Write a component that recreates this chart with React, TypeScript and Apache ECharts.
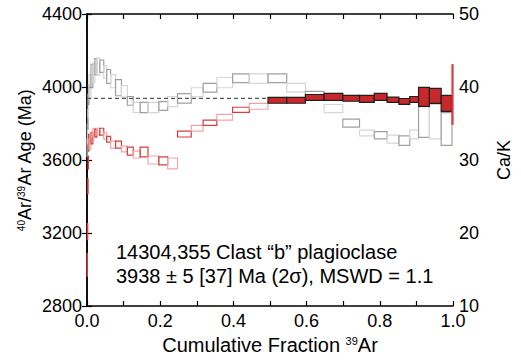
import React, { useEffect, useRef } from 'react';
import * as echarts from 'echarts';

// Cumulative 39Ar fraction at the end of each heating step
const stepEnds = [
  0.001, 0.002, 0.003, 0.004, 0.0054, 0.0108, 0.0161, 0.0215, 0.0269, 0.0349,
  0.0457, 0.0538, 0.0645, 0.078, 0.0941, 0.1102, 0.1263, 0.1452, 0.1667, 0.1962,
  0.2204, 0.2473, 0.2849, 0.3172, 0.3548, 0.3978, 0.4435, 0.4946, 0.5457, 0.5968,
  0.6478, 0.6989, 0.7446, 0.7849, 0.8199, 0.8522, 0.8817, 0.9059, 0.9355, 0.9677,
  0.9973, 1.0,
];
// 40Ar/39Ar apparent age (Ma) and error
const ageValues = [
  3025, 3208, 3456, 3586, 3695, 3687, 3720, 3752, 3747, 3755,
  3755, 3733, 3714, 3684, 3684, 3660, 3649, 3630, 3644, 3600,
  3595, 3581, 3742, 3774, 3804, 3834, 3875, 3894, 3927, 3927,
  3943, 3946, 3938, 3935, 3946, 3930, 3921, 3932, 3946, 3951,
  3910, 3959,
];
const ageErrors = [
  62, 44, 41, 35, 46, 27, 32, 22, 22, 19,
  19, 19, 16, 19, 19, 16, 22, 19, 27, 22,
  22, 30, 16, 16, 14, 16, 14, 16, 16, 16,
  16, 19, 16, 19, 19, 14, 16, 16, 52, 41,
  44, 163,
];
// Ca/K ratio and error
const caKValues: (number | null)[] = [
  31.7, 33.55, 35.55, 37.45, 38.95, 40.0, 41.5, 41.95, 42.8, 42.8,
  42.85, 42.05, 41.45, 40.8, 39.9, 39.4, 38.1, 37.2, 37.2, 37.2,
  37.4, 38.0, 38.45, 39.3, 39.9, 40.6, 41.2, 41.15, 41.2, 39.9,
  38.85, 37.05, 35.05, 33.7, 33.4, 32.85, 32.65, 33.5, 35.2, 35.25,
  34.25, null,
];
const caKErrors: (number | null)[] = [
  1.2, 1.35, 1.35, 1.55, 1.35, 1.7, 1.6, 1.35, 1.1, 1.2,
  0.85, 0.85, 0.95, 0.9, 1.1, 0.8, 0.6, 0.7, 0.7, 0.7,
  0.6, 0.7, 0.65, 0.6, 0.6, 0.7, 0.6, 0.65, 0.6, 0.6,
  0.55, 0.55, 0.55, 0.4, 0.5, 0.55, 0.65, 0.6, 2.1, 2.35,
  2.25, null,
];
const plateauFirst = 28;
const plateauLast = 40;
const plateauAge = 3938;
const xTickLabels = ['0.0', '0.2', '0.4', '0.6', '0.8', '1.0'];
const annotationLines = [
  '14304,355 Clast \u201cb\u201d plagioclase',
  '3938 \u00b1 5 [37] Ma (2\u03c3), MSWD = 1.1',
];

const FONT = '"Liberation Sans", Arial, Helvetica, sans-serif';

function buildBoxes(values: (number | null)[], errors: (number | null)[]) {
  const out: number[][] = [];
  for (let i = 0; i < stepEnds.length; i++) {
    const v = values[i];
    const e = errors[i];
    if (v == null || e == null) continue;
    const x0 = i === 0 ? 0 : stepEnds[i - 1];
    out.push([x0, stepEnds[i], v - e, v + e, i]);
  }
  return out;
}

export default function App() {
  const ref = useRef<HTMLDivElement>(null);
  useEffect(() => {
    if (!ref.current) return;
    const chart = echarts.init(ref.current, undefined, { renderer: 'svg' });
    const ageBoxes = buildBoxes(ageValues, ageErrors);
    const caKBoxes = buildBoxes(caKValues, caKErrors);
    const plateauStartX = stepEnds[plateauFirst - 1];
    const lastStep = stepEnds.length - 1;

    const axisLine = { lineStyle: { color: '#000', width: 1.5 } };
    const tick = { inside: true, length: 5, lineStyle: { color: '#000', width: 1.2 } };
    const label = { color: '#000', fontSize: 18, fontFamily: FONT };
    const sup = { fontSize: 10, fontFamily: FONT, color: '#000', verticalAlign: 'top' as const };

    const boxRenderer = (kind: 'age' | 'cak') => (params: any, api: any) => {
      const i = api.value(4);
      const a = api.coord([api.value(0), api.value(3)]);
      const b = api.coord([api.value(1), api.value(2)]);
      let style: any;
      if (kind === 'age') {
        const plateau = i >= plateauFirst && i <= plateauLast;
        const dark = i % 2 === 0 || i === lastStep || i < 5;
        style = plateau
          ? { fill: '#c8282a', stroke: '#1e1e1e', lineWidth: 1.2 }
          : { fill: 'none', stroke: dark ? '#d63c3c' : '#f0a6a6', lineWidth: 1.2 };
      } else {
        style = { fill: 'none', stroke: i % 2 ? '#d6d6d6' : '#a0a0a0', lineWidth: 1.2 };
      }
      return {
        type: 'rect',
        shape: { x: a[0], y: a[1], width: b[0] - a[0], height: b[1] - a[1] },
        style,
      };
    };

    chart.setOption({
      animation: false,
      grid: { left: 87, right: 62, top: 14, bottom: 52, containLabel: false },
      xAxis: [
        {
          type: 'value', min: 0, max: 1, interval: 0.1, position: 'bottom',
          axisLine, axisTick: tick, splitLine: { show: false },
          axisLabel: {
            ...label, margin: 6, hideOverlap: false, showMinLabel: true, showMaxLabel: true,
            formatter: (v: number) => {
              const k = Math.round(v * 10);
              return k % 2 === 0 ? xTickLabels[k / 2] : '';
            },
          },
          name: 'Cumulative Fraction {sup|39}Ar', nameLocation: 'middle', nameGap: 29,
          nameTextStyle: { fontSize: 20, fontFamily: FONT, color: '#000', rich: { sup: { ...sup, fontSize: 11 } } },
        },
        {
          type: 'value', min: 0, max: 1, interval: 0.1, position: 'top',
          axisLine, axisTick: tick, axisLabel: { show: false }, splitLine: { show: false },
        },
      ],
      yAxis: [
        {
          type: 'value', min: 2800, max: 4400, interval: 400, position: 'left',
          axisLine, axisTick: tick, splitLine: { show: false },
          axisLabel: { ...label, margin: 5, formatter: (v: number) => String(v) },
          name: '{sup|40}Ar/{sup|39}Ar Age (Ma)', nameLocation: 'middle', nameGap: 53, nameRotate: 90,
          nameMoveOverlap: false,
          nameTextStyle: { fontSize: 18, fontFamily: FONT, color: '#000', rich: { sup } },
        },
        {
          type: 'value', min: 10, max: 50, interval: 10, position: 'right',
          axisLine, axisTick: tick, splitLine: { show: false },
          axisLabel: { ...label, margin: 6, formatter: (v: number) => String(v) },
          name: 'Ca/K', nameLocation: 'middle', nameGap: 42, nameRotate: 90,
          nameTextStyle: { fontSize: 18, fontFamily: FONT, color: '#000' },
        },
      ],
      graphic: annotationLines.map((t, k) => ({
        type: 'text', left: 116, top: 242 + k * 24,
        style: { text: t, fontSize: 20, fontFamily: FONT, fill: '#000' },
      })),
      series: [
        {
          type: 'custom', name: 'Ca/K', xAxisIndex: 0, yAxisIndex: 1,
          renderItem: boxRenderer('cak'), data: caKBoxes,
          encode: { x: [0, 1], y: [2, 3] }, z: 2,
        },
        {
          type: 'line', xAxisIndex: 0, yAxisIndex: 0, symbol: 'none', z: 3,
          data: [[0, plateauAge], [plateauStartX, plateauAge]],
          lineStyle: { color: '#555', width: 1.2, type: [4, 3] },
        },
        {
          type: 'custom', name: 'Age', xAxisIndex: 0, yAxisIndex: 0,
          renderItem: boxRenderer('age'), data: ageBoxes,
          encode: { x: [0, 1], y: [2, 3] }, z: 4,
        },
      ],
    });
    return () => chart.dispose();
  }, []);
  return (
    <div
      ref={ref}
      style={{ position: 'fixed', left: 0, top: 0, width: 521, height: 360, background: '#fff' }}
    />
  );
}
